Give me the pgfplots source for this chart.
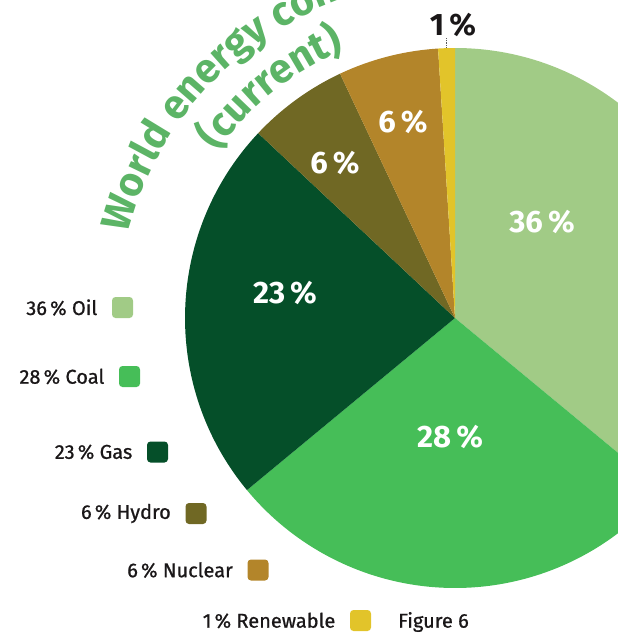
\documentclass[border=0pt]{standalone}
\usepackage{fontspec}
\setmainfont{Fira Sans}
\newfontfamily\legfam{Fira Sans}[FakeBold=0.8]
\usepackage{pgfplots}
\usepackage{pgfplotstable}
\pgfplotsset{compat=1.18}
\usetikzlibrary{decorations.text}
\definecolor{oil}{HTML}{A1CB86}
\definecolor{coal}{HTML}{46BE58}
\definecolor{gas}{HTML}{054F29}
\definecolor{hydro}{HTML}{706824}
\definecolor{nuclear}{HTML}{B3852A}
\definecolor{renew}{HTML}{E2C42A}
\definecolor{titlegreen}{HTML}{5CB466}
\definecolor{ink}{HTML}{1A1718}
\newcommand\labfont{\fontsize{31}{31}\selectfont\bfseries}
\newcommand\legfont{\legfam\fontsize{20}{20}\selectfont}
\newcommand\titfont{\fontsize{41}{41}\selectfont\bfseries}

\pgfplotstableread{
name value col lc lx ly sx sy
Oil 36 oil white 542 222 122.5 307.5
Coal 28 coal white 450 437 129.5 376.5
Gas 23 gas white 285 293 157.5 452
Hydro 6 hydro white 335 163 196 513.5
Nuclear 6 nuclear white 403 122 258 570
Renewable 1 renew ink 453 25 360.5 620.5
}\energy

\begin{document}
\begin{tikzpicture}
\useasboundingbox (0,0) rectangle (618pt,638pt);
\clip (0,0) rectangle (618pt,638pt);
\begin{axis}[
  at={(0pt,0pt)}, anchor=south west,
  width=618pt, height=638pt, scale only axis,
  xmin=0, xmax=618, ymin=0, ymax=638, y dir=reverse,
  hide axis, clip=false]
\pgfplotstablegetrowsof{\energy}
\pgfmathtruncatemacro\N{\pgfplotsretval-1}
\def\cum{0}
\pgfplotsforeachungrouped \i in {0,...,\N}{
  \pgfplotstablegetelem{\i}{value}\of\energy \edef\v{\pgfplotsretval}
  \pgfplotstablegetelem{\i}{col}\of\energy \edef\c{\pgfplotsretval}
  \pgfplotstablegetelem{\i}{lc}\of\energy \edef\lc{\pgfplotsretval}
  \pgfplotstablegetelem{\i}{name}\of\energy \edef\nm{\pgfplotsretval}
  \pgfplotstablegetelem{\i}{lx}\of\energy \edef\lx{\pgfplotsretval}
  \pgfplotstablegetelem{\i}{ly}\of\energy \edef\ly{\pgfplotsretval}
  \pgfplotstablegetelem{\i}{sx}\of\energy \edef\sx{\pgfplotsretval}
  \pgfplotstablegetelem{\i}{sy}\of\energy \edef\sy{\pgfplotsretval}
  \pgfmathsetmacro\a{90-3.6*\cum}
  \pgfmathsetmacro\b{90-3.6*(\cum+\v)}
  \pgfmathsetmacro\xa{\sx-10.5}\pgfmathsetmacro\xb{\sx+10.5}
  \pgfmathsetmacro\ya{\sy-10.5}\pgfmathsetmacro\yb{\sy+10.5}
  \pgfmathsetmacro\tx{\sx-25}
  \edef\cmd{%
    \noexpand\fill[\c] (axis cs:455,318) -- ++(\a:270pt) arc[start angle=\a, end angle=\b, radius=270pt] -- cycle;
    \noexpand\fill[\c, rounded corners=3.5pt] (axis cs:\xa,\ya) rectangle (axis cs:\xb,\yb);
    \noexpand\node[anchor=east, text=ink, font=\noexpand\legfont, inner sep=0pt] at (axis cs:\tx,\sy) {\v\noexpand\hspace{0.16em}\noexpand\% \nm};
  }
  \cmd
  \pgfmathsetmacro\cum{\cum+\v}
}
\pgfplotsforeachungrouped \i in {0,...,\N}{
  \pgfplotstablegetelem{\i}{value}\of\energy \edef\v{\pgfplotsretval}
  \pgfplotstablegetelem{\i}{lc}\of\energy \edef\lc{\pgfplotsretval}
  \pgfplotstablegetelem{\i}{lx}\of\energy \edef\lx{\pgfplotsretval}
  \pgfplotstablegetelem{\i}{ly}\of\energy \edef\ly{\pgfplotsretval}
  \edef\cmd{%
    \noexpand\node[text=\lc, font=\noexpand\labfont, inner sep=0pt] at (axis cs:\lx,\ly) {\v\noexpand\,\noexpand\%};
  }
  \cmd
}
\draw[densely dotted, gray!70!black, line width=0.8pt] (axis cs:446,38) -- (axis cs:446,48);
\node[anchor=west, text=ink, font=\legfont, inner sep=0pt] at (axis cs:398,622) {Figure 6};
\end{axis}
\path[decorate, decoration={text along path, text color=titlegreen,
   text={|\titfont|World energy consumption}}]
   (455pt,320pt) ++(165.5:338pt) arc[start angle=165.5, end angle=40, radius=338pt];
\path[decorate, decoration={text along path, text color=titlegreen,
   text={|\titfont|(current)}}]
   (455pt,320pt) ++(145:290pt) arc[start angle=145, end angle=60, radius=290pt];
\end{tikzpicture}
\end{document}
